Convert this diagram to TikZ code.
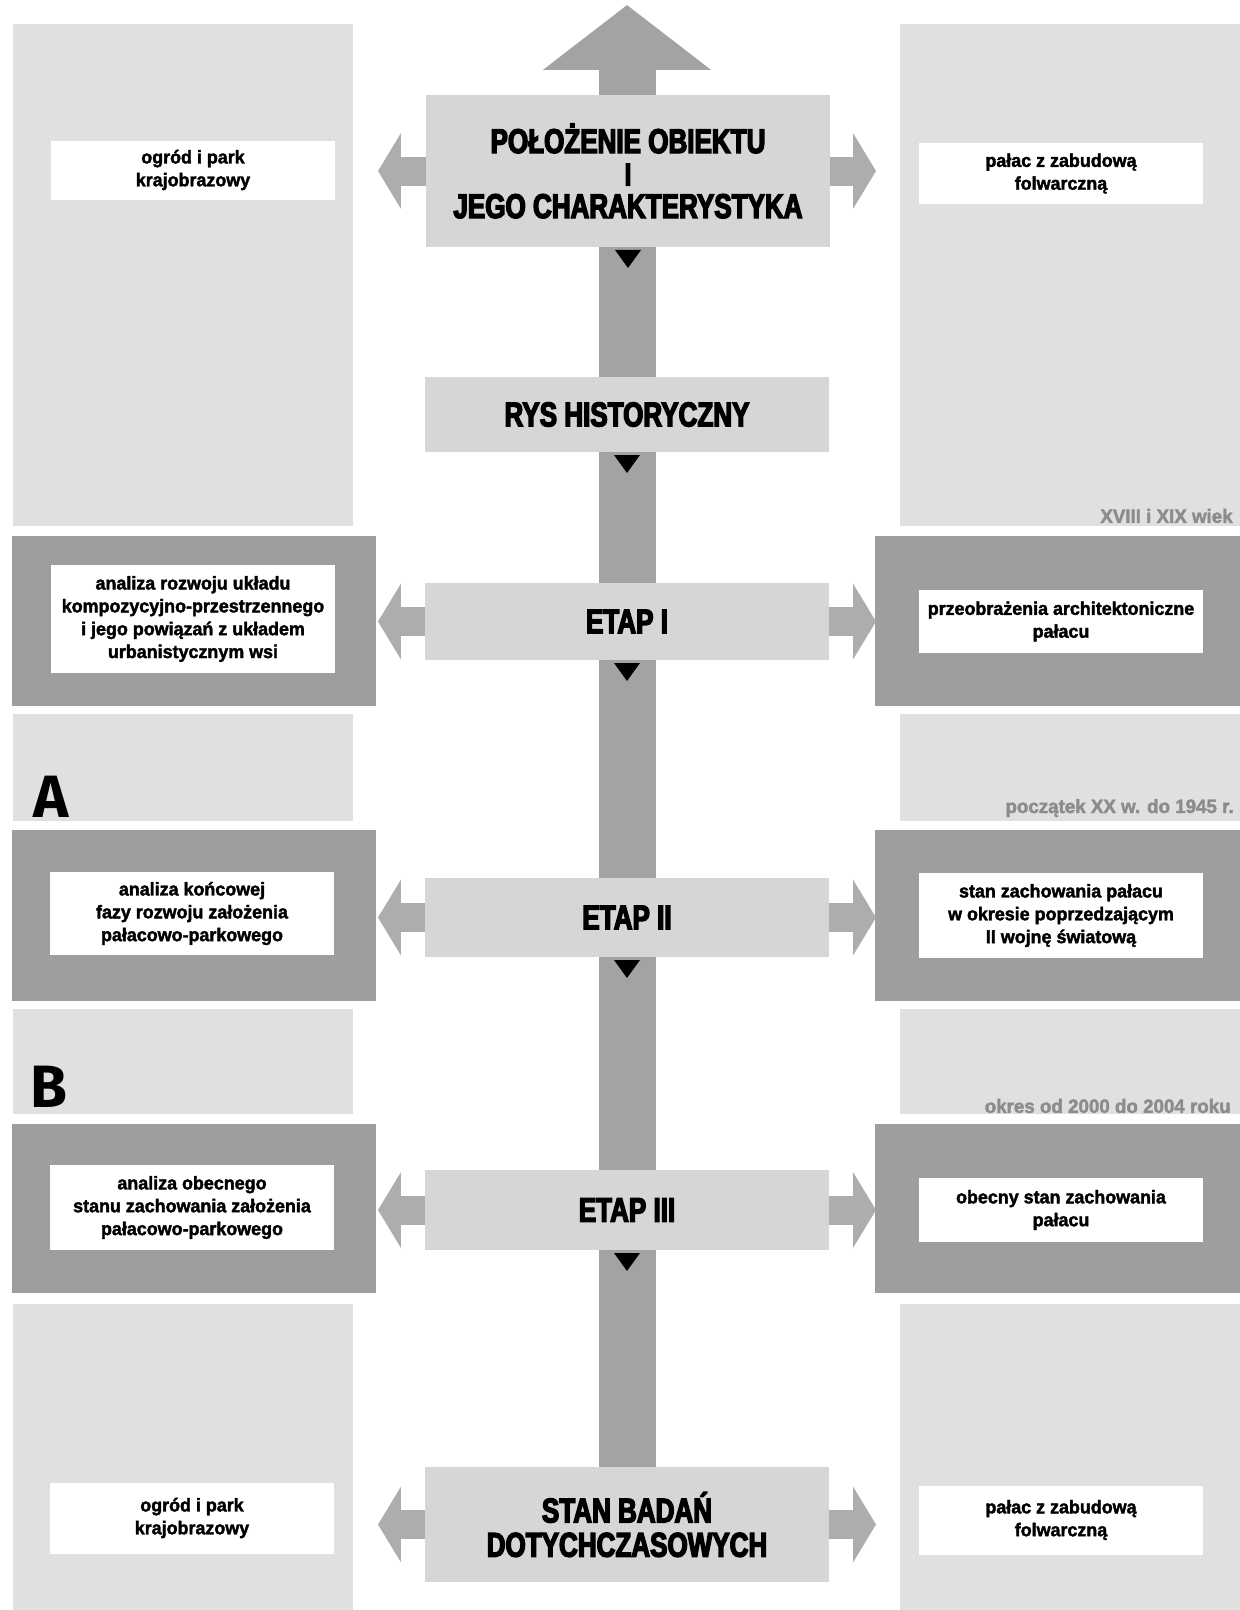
\documentclass[tikz,border=0pt]{standalone}
\usepackage{fontspec}
\usepackage{tikz}
\usetikzlibrary{positioning,arrows.meta,backgrounds}
\newfontfamily\titlefont{Liberation Sans}[UprightFont=* Bold,FakeStretch=0.76,FakeBold=4]
\newfontfamily\notefont{Liberation Sans}[UprightFont=* Bold,FakeStretch=0.97,FakeBold=2]
\newfontfamily\handfont{Fira Sans}
\colorlet{panelgray}{black!12}
\colorlet{deepgray}{black!38}
\colorlet{stagegray}{black!16}
\colorlet{trunkgray}{black!36}
\colorlet{branchgray}{black!32}
\colorlet{periodgray}{black!45}
\def\stagewidth{8.1cm}
\def\notewidth{5.68cm}
\tikzstyle{panel}=[fill=panelgray]
\tikzstyle{deeppanel}=[fill=deepgray]
\tikzstyle{stage}=[fill=stagegray, inner sep=0pt, outer sep=0pt,
    text centered, align=center, minimum width=\stagewidth,
    font=\titlefont\fontsize{19.5}{18.5}\selectfont]
\tikzstyle{note}=[fill=white, inner sep=0pt, outer sep=0pt,
    text centered, align=center, minimum width=\notewidth,
    font=\notefont\fontsize{10.5}{13}\selectfont]
\tikzstyle{period}=[anchor=east, inner sep=0pt, text=periodgray,
    font=\notefont\fontsize{11}{11}\selectfont]
\tikzstyle{letter}=[inner sep=0pt, font=\handfont\bfseries\fontsize{34}{34}\selectfont]
\tikzstyle{trunk}=[draw=trunkgray, line width=1.14cm, -{Triangle[length=1.3cm,width=3.3cm]}]
\tikzstyle{branch}=[draw=branchgray, line width=0.58cm, -{Triangle[length=0.46cm,width=1.5cm]}]
\tikzstyle{marker}=[fill=black]

\begin{document}
\begin{tikzpicture}[x=0.02cm, y=-0.02cm]
    \useasboundingbox (0,0) rectangle (1240,1610);
    \fill[panel] (13,24) rectangle (353,526);
    \fill[panel] (900,24) rectangle (1240,526);
    \fill[deeppanel] (12,536) rectangle (376,706);
    \fill[deeppanel] (875,536) rectangle (1240,706);
    \fill[panel] (13,714) rectangle (353,821);
    \fill[panel] (900,714) rectangle (1240,821);
    \fill[deeppanel] (12,830) rectangle (376,1001);
    \fill[deeppanel] (875,830) rectangle (1240,1001);
    \fill[panel] (13,1009) rectangle (353,1114);
    \fill[panel] (900,1009) rectangle (1240,1114);
    \fill[deeppanel] (12,1124) rectangle (376,1293);
    \fill[deeppanel] (875,1124) rectangle (1240,1293);
    \fill[panel] (13,1304) rectangle (353,1610);
    \fill[panel] (900,1304) rectangle (1240,1610);

    \coordinate (top) at (627,5);
    \coordinate (tipL) at (378,0);
    \coordinate (tipR) at (876,0);

    \node[stage, minimum height=3.04cm] (polozenie) at (628,171)
        {POŁOŻENIE OBIEKTU\\{\fontsize{18}{18}\selectfont I}\\JEGO CHARAKTERYSTYKA};
    \node[stage, minimum height=1.5cm] (rys) at (627,414.5) {RYS HISTORYCZNY};
    \node[stage, minimum height=1.54cm] (etap1) at (627,621.5) {ETAP I};
    \node[stage, minimum height=1.58cm] (etap2) at (627,917.5) {ETAP II};
    \node[stage, minimum height=1.6cm] (etap3) at (627,1210) {ETAP III};
    \node[stage, minimum height=2.3cm] (stan) at (627,1524.5)
        {STAN BADAŃ\\[1pt]DOTYCHCZASOWYCH};

    \begin{scope}[on background layer]
        \draw[trunk] (stan.north) -- (top);
    \end{scope}

    \draw[branch] (polozenie.west) -- (polozenie.west -| tipL);
    \draw[branch] (polozenie.east) -- (polozenie.east -| tipR);
    \draw[branch] (etap1.west) -- (etap1.west -| tipL);
    \draw[branch] (etap1.east) -- (etap1.east -| tipR);
    \draw[branch] (etap2.west) -- (etap2.west -| tipL);
    \draw[branch] (etap2.east) -- (etap2.east -| tipR);
    \draw[branch] (etap3.west) -- (etap3.west -| tipL);
    \draw[branch] (etap3.east) -- (etap3.east -| tipR);
    \draw[branch] (stan.west) -- (stan.west -| tipL);
    \draw[branch] (stan.east) -- (stan.east -| tipR);

    \fill[marker] (polozenie.south) ++(-13,3) -- ++(26,0) -- ++(-13,18) -- cycle;
    \fill[marker] (rys.south) ++(-13,3) -- ++(26,0) -- ++(-13,18) -- cycle;
    \fill[marker] (etap1.south) ++(-13,3) -- ++(26,0) -- ++(-13,18) -- cycle;
    \fill[marker] (etap2.south) ++(-13,3) -- ++(26,0) -- ++(-13,18) -- cycle;
    \fill[marker] (etap3.south) ++(-13,3) -- ++(26,0) -- ++(-13,18) -- cycle;

    \node[note, minimum height=1.18cm] (parkTop) at (193,170) {ogród i park\\krajobrazowy};
    \node[note, minimum height=1.22cm] (palacTop) at (1061,173.5) {pałac z zabudową\\folwarczną};
    \node[note, minimum height=2.16cm] (rozwoj) at (193,619)
        {analiza rozwoju układu\\kompozycyjno-przestrzennego\\i jego powiązań z układem\\urbanistycznym wsi};
    \node[note, minimum height=1.26cm] (przeobr) at (1061,621.5)
        {przeobrażenia architektoniczne\\pałacu};
    \node[note, minimum height=1.66cm] (koncowa) at (192,913.5)
        {analiza końcowej\\fazy rozwoju założenia\\pałacowo-parkowego};
    \node[note, minimum height=1.7cm] (przedwoj) at (1061,915.5)
        {stan zachowania pałacu\\w okresie poprzedzającym\\II wojnę światową};
    \node[note, minimum height=1.7cm] (obecnaL) at (192,1207.5)
        {analiza obecnego\\stanu zachowania założenia\\pałacowo-parkowego};
    \node[note, minimum height=1.28cm] (obecnaR) at (1061,1210)
        {obecny stan zachowania\\pałacu};
    \node[note, minimum height=1.42cm] (parkBot) at (192,1518) {ogród i park\\krajobrazowy};
    \node[note, minimum height=1.38cm] (palacBot) at (1061,1520) {pałac z zabudową\\folwarczną};

    \node[period] (wiek) at (1233,516) {XVIII i XIX wiek};
    \node[period] (poczatek) at (1234,808) {początek XX w. do 1945 r.};
    \node[period] (okres) at (1231,1106) {okres od 2000 do 2004 roku};
    \node[letter] (etapA) at (51,797) {A};
    \node[letter] (etapB) at (49,1087) {B};
\end{tikzpicture}
\end{document}
